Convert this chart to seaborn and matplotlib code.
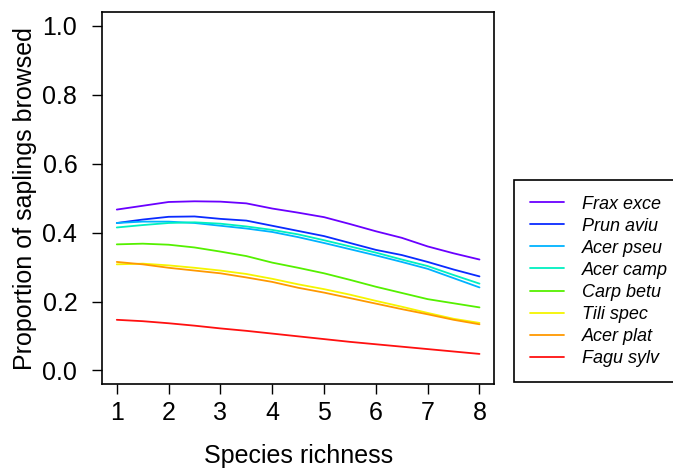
import pandas as pd
import matplotlib
matplotlib.use('Agg')
import matplotlib.pyplot as plt
import seaborn as sns

# Species richness grid
richness = [1, 1.5, 2, 2.5, 3, 3.5, 4, 4.5, 5, 5.5, 6, 6.5, 7, 7.5, 8]

# Predicted proportion of saplings browsed, per species
frax_exce = [0.467, 0.478, 0.489, 0.491, 0.490, 0.485, 0.470, 0.458, 0.445, 0.425, 0.404, 0.385, 0.360, 0.340, 0.322]
prun_aviu = [0.428, 0.438, 0.446, 0.447, 0.440, 0.435, 0.420, 0.405, 0.390, 0.370, 0.350, 0.335, 0.315, 0.293, 0.273]
acer_pseu = [0.428, 0.432, 0.432, 0.428, 0.420, 0.412, 0.402, 0.387, 0.370, 0.352, 0.334, 0.315, 0.295, 0.268, 0.241]
acer_camp = [0.415, 0.422, 0.428, 0.430, 0.426, 0.418, 0.408, 0.395, 0.378, 0.360, 0.342, 0.322, 0.303, 0.277, 0.252]
carp_betu = [0.366, 0.368, 0.365, 0.357, 0.345, 0.332, 0.313, 0.298, 0.282, 0.263, 0.243, 0.225, 0.207, 0.195, 0.183]
tili_spec = [0.308, 0.310, 0.305, 0.298, 0.290, 0.280, 0.266, 0.250, 0.236, 0.220, 0.202, 0.185, 0.167, 0.150, 0.138]
acer_plat = [0.315, 0.308, 0.298, 0.290, 0.282, 0.270, 0.257, 0.240, 0.226, 0.210, 0.194, 0.178, 0.163, 0.147, 0.134]
fagu_sylv = [0.147, 0.143, 0.137, 0.130, 0.122, 0.115, 0.107, 0.099, 0.091, 0.083, 0.076, 0.069, 0.062, 0.055, 0.048]

species = ['Frax exce', 'Prun aviu', 'Acer pseu', 'Acer camp',
           'Carp betu', 'Tili spec', 'Acer plat', 'Fagu sylv']
series = [frax_exce, prun_aviu, acer_pseu, acer_camp,
          carp_betu, tili_spec, acer_plat, fagu_sylv]
colors = ['#6A00FF', '#0A2BFF', '#00B3FF', '#00F0C0',
          '#55F000', '#F5F500', '#FF9900', '#FF1010']

rows = []
for name, vals in zip(species, series):
    for x, y in zip(richness, vals):
        rows.append({'richness': x, 'prop': y, 'species': name})
df = pd.DataFrame(rows)

sns.set_style('ticks')
plt.rcParams['font.family'] = ['Liberation Sans', 'DejaVu Sans']
plt.rcParams['text.color'] = 'black'
plt.rcParams['axes.labelcolor'] = 'black'

fig = plt.figure(figsize=(6.73, 4.68), dpi=100)
ax = fig.add_axes([0.152, 0.179, 0.582, 0.795])

sns.lineplot(data=df, x='richness', y='prop', hue='species', hue_order=species,
             palette=dict(zip(species, colors)), linewidth=1.3, ax=ax, legend=False)

ax.set_xlim(0.72, 8.28)
ax.set_ylim(-0.04, 1.04)
ax.set_xticks(range(1, 9))
ax.set_yticks([0.0, 0.2, 0.4, 0.6, 0.8, 1.0])
ax.set_yticklabels(['0.0', '0.2', '0.4', '0.6', '0.8', '1.0'])
ax.tick_params(labelsize=18, length=7, width=1, direction='out', color='black',
               labelcolor='black', pad=5)
ax.tick_params(axis='y', pad=11)
for s in ax.spines.values():
    s.set_visible(True)
    s.set_color('black')
    s.set_linewidth(1.2)
ax.set_xlabel('Species richness', fontsize=18, labelpad=14)
ax.set_ylabel('Proportion of saplings browsed', fontsize=18, labelpad=4)

handles = [plt.Line2D([], [], color=c, linewidth=1.3) for c in colors]
leg = fig.legend(handles, species, loc='lower left', bbox_to_anchor=(0.764, 0.183),
                 borderaxespad=0, fancybox=False, framealpha=1, edgecolor='black',
                 prop={'size': 13, 'style': 'italic'}, handlelength=1.9,
                 handletextpad=1.0, labelspacing=0.28, borderpad=0.85)
leg.get_frame().set_linewidth(1.2)

plt.savefig('out.png', dpi=100)
